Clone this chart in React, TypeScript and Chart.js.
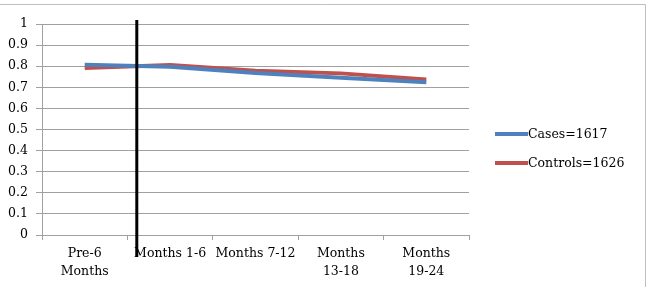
import React, { useEffect, useRef } from "react";
import { Chart, registerables } from "chart.js";

Chart.register(...registerables);

const categories: (string | string[])[] = [
  ["Pre-6", "Months"],
  "Months 1-6",
  "Months 7-12",
  ["Months", "13-18"],
  ["Months", "19-24"],
];
const casesLabel = "Cases=1617";
const controlsLabel = "Controls=1626";
const casesValues = [0.807, 0.797, 0.768, 0.745, 0.724];
const controlsValues = [0.792, 0.806, 0.779, 0.766, 0.737];
const yTicks = [0, 0.1, 0.2, 0.3, 0.4, 0.5, 0.6, 0.7, 0.8, 0.9, 1];

// divider between the pre-period and follow-up, in category units
const dividerAt = 0.61;

const FONT = "'DejaVu Serif', 'Liberation Serif', serif";
const BLUE = "#4F81BD";
const RED = "#C0504D";
const GRID = "#A0A0A0";

const framePlugin = {
  id: "frame",
  afterDraw(chart: any) {
    const { ctx, chartArea, scales } = chart;
    ctx.save();
    // frame edges (top and right)
    ctx.strokeStyle = "#BFBFBF";
    ctx.lineWidth = 1;
    ctx.beginPath();
    ctx.moveTo(0, 4.5);
    ctx.lineTo(645.5, 4.5);
    ctx.lineTo(645.5, chart.height);
    ctx.stroke();

    // vertical divider
    const x0 = scales.x.getPixelForValue(0);
    const x1 = scales.x.getPixelForValue(1);
    const xd = x0 + (x1 - x0) * dividerAt;
    ctx.strokeStyle = "#000";
    ctx.lineWidth = 3;
    ctx.beginPath();
    ctx.moveTo(xd, chartArea.top - 4);
    ctx.lineTo(xd, chartArea.bottom + 22);
    ctx.stroke();

    // legend
    const items = chart.data.datasets;
    const lx = 495;
    const rows = [134, 163];
    ctx.font = `12.5px ${FONT}`;
    ctx.textBaseline = "middle";
    ctx.fillStyle = "#000";
    items.forEach((ds: any, i: number) => {
      const y = rows[i];
      ctx.strokeStyle = ds.borderColor;
      ctx.lineWidth = 4;
      ctx.beginPath();
      ctx.moveTo(lx, y);
      ctx.lineTo(lx + 33, y);
      ctx.stroke();
      ctx.fillText(ds.label, lx + 33, y + 0.5);
    });
    ctx.restore();
  },
};

export default function App() {
  const ref = useRef<HTMLCanvasElement>(null);

  useEffect(() => {
    if (!ref.current) return;
    const chart = new Chart(ref.current, {
      type: "line",
      data: {
        labels: categories as any,
        datasets: [
          {
            label: casesLabel,
            data: casesValues,
            borderColor: BLUE,
            backgroundColor: BLUE,
            borderWidth: 4,
            pointRadius: 0,
            tension: 0,
          },
          {
            label: controlsLabel,
            data: controlsValues,
            borderColor: RED,
            backgroundColor: RED,
            borderWidth: 4,
            pointRadius: 0,
            tension: 0,
          },
        ],
      },
      options: {
        responsive: false,
        animation: false,
        layout: { padding: { left: 0, top: 24, right: 183, bottom: 0 } },
        plugins: {
          legend: { display: false },
          tooltip: { enabled: false },
        },
        scales: {
          x: {
            type: "category",
            offset: true,
            grid: {
              offset: true,
              drawOnChartArea: false,
              drawTicks: true,
              tickLength: 5,
              color: GRID,
            },
            border: { display: true, color: GRID, width: 1 },
            ticks: {
              color: "#000",
              font: { family: FONT, size: 12.5, lineHeight: 1.44 },
              padding: 5,
              maxRotation: 0,
              autoSkip: false,
            },
            afterFit(scale: any) {
              scale.height = 52;
            },
          },
          y: {
            min: 0,
            max: 1,
            afterBuildTicks(scale: any) {
              scale.ticks = yTicks.map((v) => ({ value: v }));
            },
            grid: {
              color: GRID,
              drawTicks: true,
              tickLength: 6,
            },
            border: { display: true, color: GRID, width: 1 },
            ticks: {
              color: "#000",
              font: { family: FONT, size: 12.5 },
              padding: 8,
              callback: (v: any) => String(Math.round(Number(v) * 10) / 10),
            },
            afterFit(scale: any) {
              scale.width = 42;
            },
          },
        },
      },
      plugins: [framePlugin],
    });
    return () => chart.destroy();
  }, []);

  return (
    <div style={{ position: "fixed", left: 0, top: 0, width: 652, height: 287, background: "#fff" }}>
      <canvas ref={ref} width={652} height={287} style={{ display: "block" }} />
    </div>
  );
}
